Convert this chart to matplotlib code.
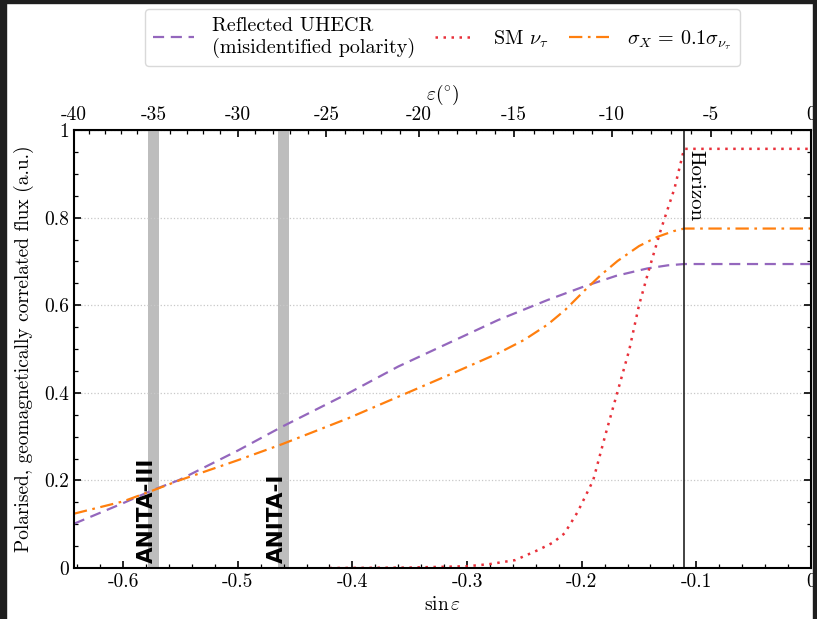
import numpy as np
import matplotlib
matplotlib.use("Agg")
import matplotlib.pyplot as plt
from matplotlib.patches import Rectangle
from matplotlib.ticker import MultipleLocator, FuncFormatter

# ================= DATA =================
x_uhecr = [-0.6428, -0.60, -0.574, -0.551, -0.50, -0.461, -0.4035, -0.36, -0.3165,
           -0.273, -0.2296, -0.1977, -0.17, -0.1426, -0.125, -0.1107, 0.0]
y_uhecr = [0.101, 0.148, 0.178, 0.201, 0.268, 0.323, 0.399, 0.460, 0.513,
           0.566, 0.612, 0.643, 0.667, 0.684, 0.691, 0.694, 0.694]

x_sm = [-0.42, -0.35, -0.30, -0.28, -0.258, -0.238, -0.225, -0.215, -0.2035, -0.19,
        -0.179, -0.169, -0.1585, -0.15, -0.141, -0.131, -0.119, -0.1107, 0.0]
y_sm = [0.0, 0.001, 0.004, 0.009, 0.018, 0.041, 0.058, 0.079, 0.128, 0.200,
        0.307, 0.400, 0.498, 0.600, 0.684, 0.772, 0.867, 0.957, 0.957]

x_sigx = [-0.6428, -0.60, -0.574, -0.551, -0.50, -0.461, -0.4035, -0.36, -0.3165,
          -0.273, -0.25, -0.2296, -0.2145, -0.1977, -0.1837, -0.1687, -0.15, -0.134,
          -0.12, -0.1107, 0.0]
y_sigx = [0.124, 0.152, 0.177, 0.200, 0.246, 0.283, 0.342, 0.391, 0.440,
          0.490, 0.521, 0.556, 0.589, 0.633, 0.668, 0.701, 0.735, 0.756,
          0.769, 0.775, 0.775]

anita_names = ["ANITA-III", "ANITA-I"]
anita_sin = [-0.5736, -0.4602]
horizon_sin = -0.1107

eps_ticks = [-40, -35, -30, -25, -20, -15, -10, -5, 0]

# ================= STYLE =================
plt.rcParams["font.family"] = "serif"
plt.rcParams["font.serif"] = ["cmr10", "DejaVu Serif"]
plt.rcParams["mathtext.fontset"] = "cm"
plt.rcParams["axes.unicode_minus"] = False
plt.rcParams["axes.formatter.use_mathtext"] = True

fig = plt.figure(figsize=(8.17, 6.19), dpi=100)
ax = fig.add_axes([74 / 817, (619 - 568) / 619, (811 - 74) / 817, 438 / 619])

# ================= PLOT =================
ax.plot(x_uhecr, y_uhecr, ls=(0, (5, 3)), color="#9467bd", lw=1.6,
        label="Reflected UHECR\n(misidentified polarity)")
ax.plot(x_sm, y_sm, ls=(0, (1, 2.2)), color="#e8303a", lw=1.8,
        label=r"SM $\nu_\tau$")
ax.plot(x_sigx, y_sigx, ls=(0, (6, 2.5, 1.2, 2.5)), color="#ff7f0e", lw=1.6,
        label=r"$\sigma_X\,=\,0.1\sigma_{\nu_\tau}$")

for name, s in zip(anita_names, anita_sin):
    ax.axvspan(s - 0.0048, s + 0.0048, color="#bdbdbd", lw=0, zorder=0.5)
    ax.text(s + 0.003, 0.012, name, rotation=90, ha="right", va="bottom",
            fontsize=15.5, fontweight="bold", family="DejaVu Sans")

ax.axvline(horizon_sin, color="#222222", lw=1.2)
ax.text(horizon_sin + 0.002, 0.955, "Horizon", rotation=-90, ha="left", va="top",
        fontsize=15)

ax.set_xlim(np.sin(np.radians(-40)), 0)
ax.set_ylim(0, 1)
ax.grid(axis="y", ls=":", color="#c8c8c8", lw=0.9)

fmt = FuncFormatter(lambda v, p: "%g" % round(v, 3))
ax.xaxis.set_major_locator(MultipleLocator(0.1))
ax.xaxis.set_minor_locator(MultipleLocator(0.02))
ax.yaxis.set_major_locator(MultipleLocator(0.2))
ax.yaxis.set_minor_locator(MultipleLocator(0.05))
ax.xaxis.set_major_formatter(fmt)
ax.yaxis.set_major_formatter(fmt)
ax.tick_params(which="both", direction="in", right=True, top=False, labelsize=14)
ax.tick_params(which="major", length=5, width=1.2)
ax.tick_params(which="minor", length=3, width=0.9)
for sp in ax.spines.values():
    sp.set_linewidth(1.5)

ax.set_xlabel(r"$\sin\varepsilon$", fontsize=14, labelpad=4)
ax.set_ylabel("Polarised, geomagnetically correlated flux (a.u.)", fontsize=14, labelpad=7)

sec = ax.secondary_xaxis(
    "top",
    functions=(lambda s: np.degrees(np.arcsin(np.clip(s, -1, 1))),
               lambda d: np.sin(np.radians(d))))
sec.set_xticks(eps_ticks)
sec.xaxis.set_major_formatter(FuncFormatter(lambda v, p: "%g" % v))
sec.xaxis.set_minor_locator(MultipleLocator(1))
sec.tick_params(which="both", direction="in", labelsize=14, pad=4)
sec.tick_params(which="major", length=5, width=1.2)
sec.tick_params(which="minor", length=3, width=0.9)
sec.set_xlabel(r"$\varepsilon(^{\circ})$", fontsize=14, labelpad=5)

leg = ax.legend(loc="lower center", bbox_to_anchor=(0.5, 1.146), ncol=3,
                fontsize=14.5, frameon=True, fancybox=True, edgecolor="#d0d0d0",
                handlelength=2.0, columnspacing=1.0, handletextpad=0.9,
                borderpad=0.4, borderaxespad=0, labelspacing=0.3)

# screenshot frame
fig.patches.append(Rectangle((0, 0), 6, 619, transform=None, color="#1e1e1e", zorder=10))
fig.patches.append(Rectangle((0, 616), 817, 3, transform=None, color="#1e1e1e", zorder=10))
fig.patches.append(Rectangle((813, 0), 4, 619, transform=None, color="#1e1e1e", zorder=10))

fig.savefig("out.png", dpi=100)
